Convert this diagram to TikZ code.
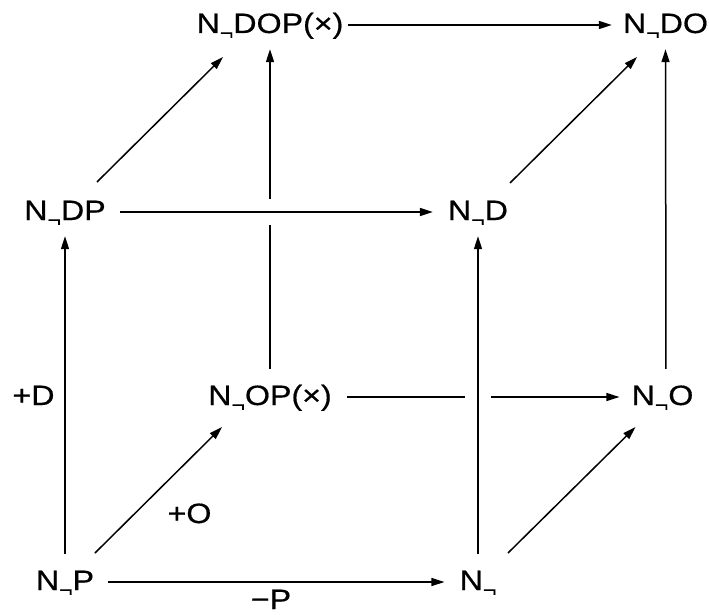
\documentclass[tikz,border=0pt]{standalone}
\usepackage{fontspec}
\setmainfont{Liberation Sans}
\newfontface\lblface{Liberation Sans}[FakeBold=0.5]
\usepackage{graphicx}
\usetikzlibrary{arrows.meta}
\newcommand\Ng{N\raisebox{-6.7pt}{\fontsize{20}{20}\selectfont ¬}}
\newcommand\wide[1]{\scalebox{1.15}[1]{#1}}
\begin{document}
\begin{tikzpicture}[x=1pt,y=-1pt,
  lbl/.style={font=\lblface\fontsize{28}{32}\selectfont, inner sep=0pt, text height=20pt, text depth=4pt, anchor=base},
  arr/.style={line width=1.5pt, -{Triangle[length=13pt,width=8pt]}},
  hor/.style={arr, shorten <=14pt, shorten >=15pt},
  ver/.style={arr, shorten <=16pt, shorten >=12pt},
  gapline/.style={preaction={draw=white, line width=26pt, -}},
]
\useasboundingbox (0,0) rectangle (709,615);
% nodes
\node[lbl] (DOPx) at (270,33) {\wide{\Ng DOP(×)}};
\node[lbl] (DO) at (665.5,33) {\wide{\Ng DO}};
\node[lbl] (DP) at (65,220) {\wide{\Ng DP}};
\node[lbl] (D) at (478,220) {\wide{\Ng D}};
\node[lbl] (OPx) at (270,405) {\wide{\Ng OP(×)}};
\node[lbl] (O) at (662.5,405) {\wide{\Ng O}};
\node[lbl] (P) at (65,590) {\wide{\Ng P}};
\node[lbl] (E) at (478,590) {\wide{\Ng}};
% labels
\node[lbl] (lD) at (33.5,405) {\wide{+D}};
\node[lbl] (lO) at (189.5,523) {\wide{+O}};
\node[lbl, text depth=0pt] (lP) at (271,609) {\wide{−P}};
% back edges
\draw[hor, shorten <=4pt, shorten >=11pt] (DOPx) -- (DO);
\draw[hor, shorten <=15pt, shorten >=12pt] (OPx) -- (O);
\draw[ver] (OPx) -- (DOPx);
\draw[ver] ([xshift=3.5pt]O.north) -- (DO.south);
% diagonals
\draw[arr] ([shift={(32,-38)}]DP.base) -- ([shift={(-47,24)}]DOPx.base);
\draw[arr] ([shift={(32,-37)}]D.base) -- ([shift={(-28.5,24)}]DO.base);
\draw[arr] ([shift={(30,-37)}]P.base) -- ([shift={(-48,22)}]OPx.base);
\draw[arr] ([shift={(30,-37)}]E.base) -- ([shift={(-27,22)}]O.base);
% front edges
\draw[hor] (P) -- (E);
\draw[ver] (P) -- (DP);
\draw[hor, gapline] (DP) -- (D);
\draw[ver, gapline] (E) -- (D);
\end{tikzpicture}
\end{document}
